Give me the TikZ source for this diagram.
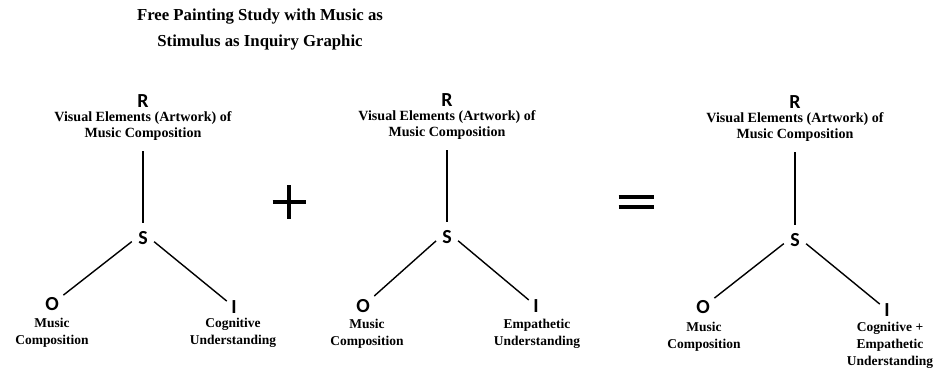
\documentclass[tikz,border=0pt]{standalone}
\usepackage{fontspec}
\setmainfont{Liberation Serif}
\newfontfamily\letterfont{Carlito}
\usetikzlibrary{positioning, calc}

\begin{document}
\begin{tikzpicture}[x=0.03cm, y=-0.03cm, line width=1.2pt,
  letter/.style={font=\letterfont\bfseries\fontsize{17}{17}\selectfont, inner sep=1pt},
  toplabel/.style={font=\bfseries\fontsize{12}{13.5}\selectfont, align=center, inner sep=1pt},
  lowlabel/.style={font=\bfseries\fontsize{11.5}{14.5}\selectfont, align=center, inner sep=0.5pt},
  stem/.style={shorten <=7.5pt, shorten >=6pt},
  branch/.style={shorten <=5pt, shorten >=3pt}]
  \useasboundingbox (0,0) rectangle (936,368);

  % Title
  \node[font=\bfseries\fontsize{14.3}{21.5}\selectfont, align=center] (title) at (260,29.5)
    {Free Painting Study with Music as\\Stimulus as Inquiry Graphic};

  % First graphic
  \node[letter] (r1) at (143,101) {R};
  \node[toplabel, below=0.5pt of r1] (rl1) {Visual Elements (Artwork) of\\Music Composition};
  \node[letter] (s1) at (143,238) {S};
  \node[letter] (o1) at (52,304) {O};
  \node[letter] (i1) at (234,307) {I};
  \node[lowlabel] (ol1) at (52,333) {Music\\Composition};
  \node[lowlabel] (il1) at (233,333) {Cognitive\\Understanding};
  \draw[stem] (rl1.south) -- (s1.north);
  \draw[branch] (s1.west) -- (o1);
  \draw[branch] (s1.east) -- (i1);

  % Plus
  \coordinate (plus) at (289,202);
  \draw[line width=2.8pt] ($(plus)+(-16.5,0)$) -- ($(plus)+(16.5,0)$)
    ($(plus)+(0,-17)$) -- ($(plus)+(0,17)$);

  % Second graphic
  \node[letter] (r2) at (447,100) {R};
  \node[toplabel, below=0.5pt of r2] (rl2) {Visual Elements (Artwork) of\\Music Composition};
  \node[letter] (s2) at (447,237) {S};
  \node[letter] (o2) at (363,306) {O};
  \node[letter] (i2) at (536,306) {I};
  \node[lowlabel] (ol2) at (367,334) {Music\\Composition};
  \node[lowlabel] (il2) at (537,334) {Empathetic\\Understanding};
  \draw[stem] (rl2.south) -- (s2.north);
  \draw[branch] (s2.west) -- (o2);
  \draw[branch] (s2.east) -- (i2);

  % Equals
  \coordinate (equals) at (636,202);
  \draw[line width=3.4pt] ($(equals)+(-17.5,-5.2)$) -- ($(equals)+(17.5,-5.2)$)
    ($(equals)+(-17.5,5.2)$) -- ($(equals)+(17.5,5.2)$);

  % Third graphic
  \node[letter] (r3) at (795,102) {R};
  \node[toplabel, below=0.5pt of r3] (rl3) {Visual Elements (Artwork) of\\Music Composition};
  \node[letter] (s3) at (795,240) {S};
  \node[letter] (o3) at (703,307) {O};
  \node[letter] (i3) at (887,310) {I};
  \node[lowlabel] (ol3) at (704,337) {Music\\Composition};
  \node[lowlabel] (il3) at (890,345.5) {Cognitive +\\Empathetic\\Understanding};
  \draw[stem] (rl3.south) -- (s3.north);
  \draw[branch] (s3.west) -- (o3);
  \draw[branch] (s3.east) -- (i3);
\end{tikzpicture}
\end{document}
